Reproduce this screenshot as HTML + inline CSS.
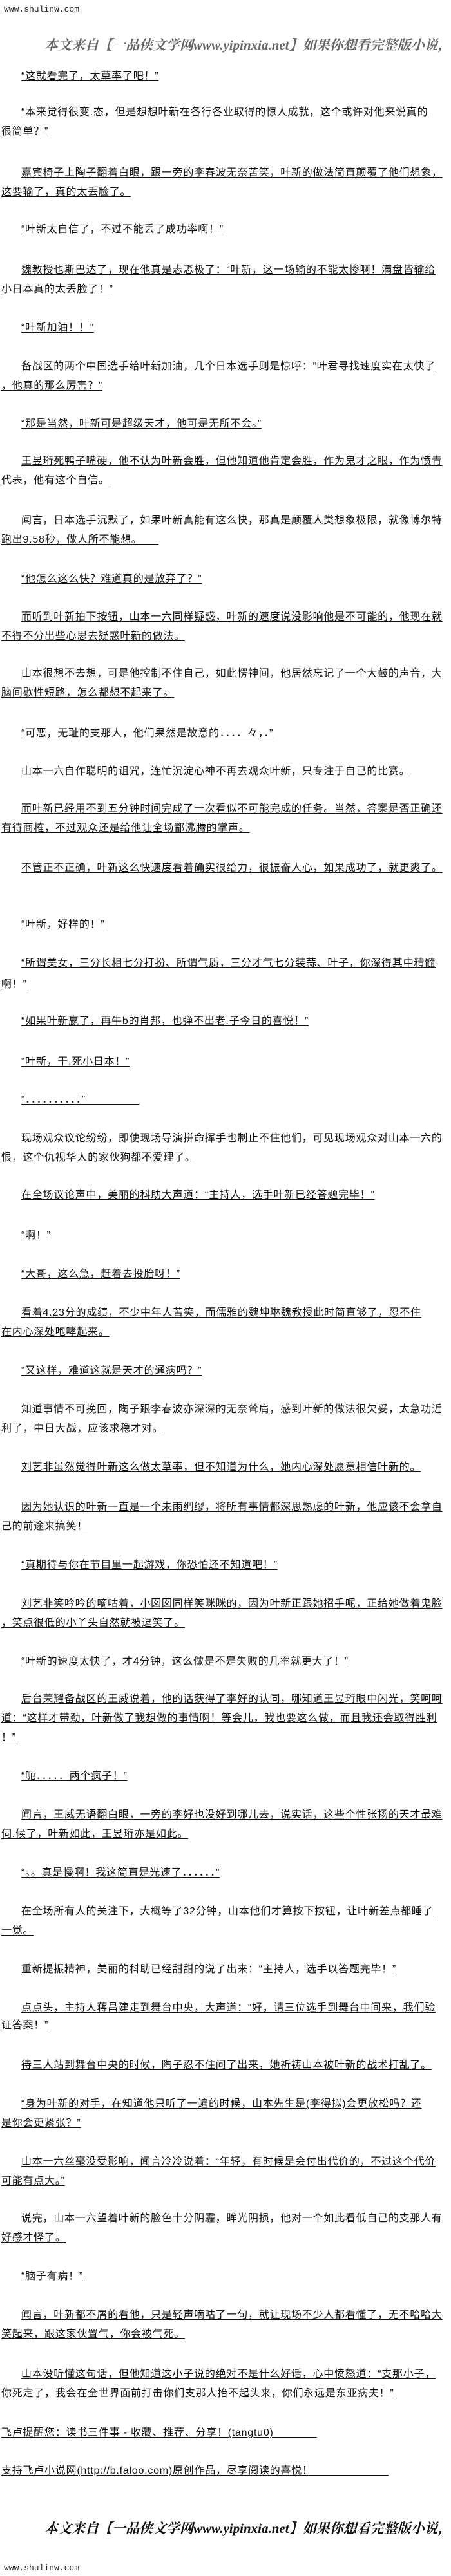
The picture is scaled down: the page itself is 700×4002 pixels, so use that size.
<!DOCTYPE html>
<html><head><meta charset="utf-8">
<style>
html,body{margin:0;padding:0;background:#fff;}
body{width:700px;height:4002px;position:relative;overflow:hidden;font-family:"Liberation Sans","Noto Sans CJK SC","WenQuanYi Zen Hei",sans-serif;color:#111;}
.l{position:absolute;white-space:nowrap;font-size:16px;letter-spacing:.76px;line-height:20px;text-decoration:underline;text-underline-offset:2px;}
.i{left:33px}.c{left:2px}
.w{position:absolute;left:6px;font-family:"Liberation Mono",monospace;font-size:13px;line-height:16px;color:#222;}
.b{position:absolute;left:69px;white-space:nowrap;font-family:"Liberation Serif","Noto Serif CJK SC",serif;font-size:21px;font-weight:bold;font-style:italic;line-height:28px;}
</style></head><body>
<div class="w" style="top:7px">www.shulinw.com</div>
<div class="b" style="top:56px;color:#666">本文来自【一品侠文学网www.yipinxia.net】如果你想看完整版小说，请</div>

<div class="l i" style="top:109px">“这就看完了，太草率了吧！”</div>
<div class="l i" style="top:165px">“本来觉得很变.态，但是想想叶新在各行各业取得的惊人成就，这个或许对他来说真的</div>
<div class="l c" style="top:195px">很简单？”</div>
<div class="l i" style="top:259px">嘉宾椅子上陶子翻着白眼，跟一旁的李春波无奈苦笑，叶新的做法简直颠覆了他们想象，</div>
<div class="l c" style="top:289px">这要输了，真的太丢脸了。</div>
<div class="l i" style="top:347px">“叶新太自信了，不过不能丢了成功率啊！”</div>
<div class="l i" style="top:410px">魏教授也斯巴达了，现在他真是忐忑极了：“叶新，这一场输的不能太惨啊！满盘皆输给</div>
<div class="l c" style="top:440px">小日本真的太丢脸了！”</div>
<div class="l i" style="top:500px">“叶新加油！！”</div>
<div class="l i" style="top:560px">备战区的两个中国选手给叶新加油，几个日本选手则是惊呼：“叶君寻找速度实在太快了</div>
<div class="l c" style="top:590px">，他真的那么厉害？”</div>
<div class="l i" style="top:649px">“那是当然，叶新可是超级天才，他可是无所不会。”</div>
<div class="l i" style="top:707px">王昱珩死鸭子嘴硬，他不认为叶新会胜，但他知道他肯定会胜，作为鬼才之眼，作为愤青</div>
<div class="l c" style="top:737px">代表，他有这个自信。</div>
<div class="l i" style="top:799px">闻言，日本选手沉默了，如果叶新真能有这么快，那真是颠覆人类想象极限，就像博尔特</div>
<div class="l c" style="top:829px">跑出9.58秒，做人所不能想。　　</div>
<div class="l i" style="top:890px">“他怎么这么快？难道真的是放弃了？”</div>
<div class="l i" style="top:949px">而听到叶新拍下按钮，山本一六同样疑惑，叶新的速度说没影响他是不可能的，他现在就</div>
<div class="l c" style="top:979px">不得不分出些心思去疑惑叶新的做法。</div>
<div class="l i" style="top:1037px">山本很想不去想，可是他控制不住自己，如此愣神间，他居然忘记了一个大鼓的声音，大</div>
<div class="l c" style="top:1067px">脑间歇性短路，怎么都想不起来了。</div>
<div class="l i" style="top:1130px">“可恶，无耻的支那人，他们果然是故意的．．．．々，．”</div>
<div class="l i" style="top:1189px">山本一六自作聪明的诅咒，连忙沉淀心神不再去观众叶新，只专注于自己的比赛。</div>
<div class="l i" style="top:1247px">而叶新已经用不到五分钟时间完成了一次看似不可能完成的任务。当然，答案是否正确还</div>
<div class="l c" style="top:1277px">有待商榷，不过观众还是给他让全场都沸腾的掌声。</div>
<div class="l i" style="top:1339px">不管正不正确，叶新这么快速度看着确实很给力，很振奋人心，如果成功了，就更爽了。</div>
<div class="l i" style="top:1427px">“叶新，好样的！”</div>
<div class="l i" style="top:1487px">“所谓美女，三分长相七分打扮、所谓气质，三分才气七分装蒜、叶子，你深得其中精髓</div>
<div class="l c" style="top:1520px">啊！”</div>
<div class="l i" style="top:1577px">“如果叶新赢了，再牛b的肖邦，也弹不出老.子今日的喜悦！”</div>
<div class="l i" style="top:1640px">“叶新，干.死小日本！”</div>
<div class="l i" style="top:1699px">“．．．．．．．．．．”　　　　　</div>
<div class="l i" style="top:1759px">现场观众议论纷纷，即使现场导演拼命挥手也制止不住他们，可见现场观众对山本一六的</div>
<div class="l c" style="top:1789px">恨，这个仇视华人的家伙狗都不爱理了。</div>
<div class="l i" style="top:1847px">在全场议论声中，美丽的科助大声道：“主持人，选手叶新已经答题完毕！”</div>
<div class="l i" style="top:1910px">“啊！”</div>
<div class="l i" style="top:1970px">“大哥，这么急，赶着去投胎呀！”</div>
<div class="l i" style="top:2030px">看着4.23分的成绩，不少中年人苦笑，而儒雅的魏坤琳魏教授此时简直够了，忍不住</div>
<div class="l c" style="top:2060px">在内心深处咆哮起来。</div>
<div class="l i" style="top:2120px">“又这样，难道这就是天才的通病吗？”</div>
<div class="l i" style="top:2180px">知道事情不可挽回，陶子跟李春波亦深深的无奈耸肩，感到叶新的做法很欠妥，太急功近</div>
<div class="l c" style="top:2210px">利了，中日大战，应该求稳才对。</div>
<div class="l i" style="top:2270px">刘艺非虽然觉得叶新这么做太草率，但不知道为什么，她内心深处愿意相信叶新的。</div>
<div class="l i" style="top:2332px">因为她认识的叶新一直是一个未雨绸缪，将所有事情都深思熟虑的叶新，他应该不会拿自</div>
<div class="l c" style="top:2362px">己的前途来搞笑！</div>
<div class="l i" style="top:2422px">“真期待与你在节目里一起游戏，你恐怕还不知道吧！”</div>
<div class="l i" style="top:2482px">刘艺非笑吟吟的嘀咕着，小囡囡同样笑眯眯的，因为叶新正跟她招手呢，正给她做着鬼脸</div>
<div class="l c" style="top:2512px">，笑点很低的小丫头自然就被逗笑了。</div>
<div class="l i" style="top:2572px">“叶新的速度太快了，才4分钟，这么做是不是失败的几率就更大了！”</div>
<div class="l i" style="top:2630px">后台荣耀备战区的王威说着，他的话获得了李好的认同，哪知道王昱珩眼中闪光，笑呵呵</div>
<div class="l c" style="top:2660px">道：“这样才带劲，叶新做了我想做的事情啊！等会儿，我也要这么做，而且我还会取得胜利</div>
<div class="l c" style="top:2690px">！”</div>
<div class="l i" style="top:2750px">“呃．．．．．两个疯子！”</div>
<div class="l i" style="top:2810px">闻言，王威无语翻白眼，一旁的李好也没好到哪儿去，说实话，这些个性张扬的天才最难</div>
<div class="l c" style="top:2840px">伺.候了，叶新如此，王昱珩亦是如此。</div>
<div class="l i" style="top:2900px">“。。真是慢啊！我这简直是光速了．．．．．．”</div>
<div class="l i" style="top:2960px">在全场所有人的关注下，大概等了32分钟，山本他们才算按下按钮，让叶新差点都睡了</div>
<div class="l c" style="top:2990px">一觉。</div>
<div class="l i" style="top:3050px">重新提振精神，美丽的科助已经甜甜的说了出来：“主持人，选手以答题完毕！”</div>
<div class="l i" style="top:3110px">点点头，主持人蒋昌建走到舞台中央，大声道：“好，请三位选手到舞台中间来，我们验</div>
<div class="l c" style="top:3137px">证答案！”</div>
<div class="l i" style="top:3199px">待三人站到舞台中央的时候，陶子忍不住问了出来，她祈祷山本被叶新的战术打乱了。</div>
<div class="l i" style="top:3259px">“身为叶新的对手，在知道他只听了一遍的时候，山本先生是(李得拟)会更放松吗？还</div>
<div class="l c" style="top:3289px">是你会更紧张？”</div>
<div class="l i" style="top:3349px">山本一六丝毫没受影响，闻言冷冷说着：“年轻，有时候是会付出代价的，不过这个代价</div>
<div class="l c" style="top:3379px">可能有点大。”</div>
<div class="l i" style="top:3437px">说完，山本一六望着叶新的脸色十分阴霾，眸光阴损，他对一个如此看低自己的支那人有</div>
<div class="l c" style="top:3467px">好感才怪了。</div>
<div class="l i" style="top:3527px">“脑子有病！”</div>
<div class="l i" style="top:3587px">闻言，叶新都不屑的看他，只是轻声嘀咕了一句，就让现场不少人都看懂了，无不哈哈大</div>
<div class="l c" style="top:3617px">笑起来，跟这家伙置气，你会被气死。</div>
<div class="l i" style="top:3679px">山本没听懂这句话，但他知道这小子说的绝对不是什么好话，心中愤怒道：“支那小子，</div>
<div class="l c" style="top:3709px">你死定了，我会在全世界面前打击你们支那人抬不起头来，你们永远是东亚病夫！”</div>
<div class="l c" style="top:3770px">飞卢提醒您：读书三件事 - 收藏、推荐、分享！(tangtu0)　　　　</div>
<div class="l c" style="top:3829px">支持飞卢小说网(http://b.faloo.com)原创作品，尽享阅读的喜悦！　　　　　　　</div>

<div class="b" style="top:3914px;color:#111">本文来自【一品侠文学网www.yipinxia.net】如果你想看完整版小说，请</div>
<div class="w" style="top:3982px">www.shulinw.com</div>
</body></html>
